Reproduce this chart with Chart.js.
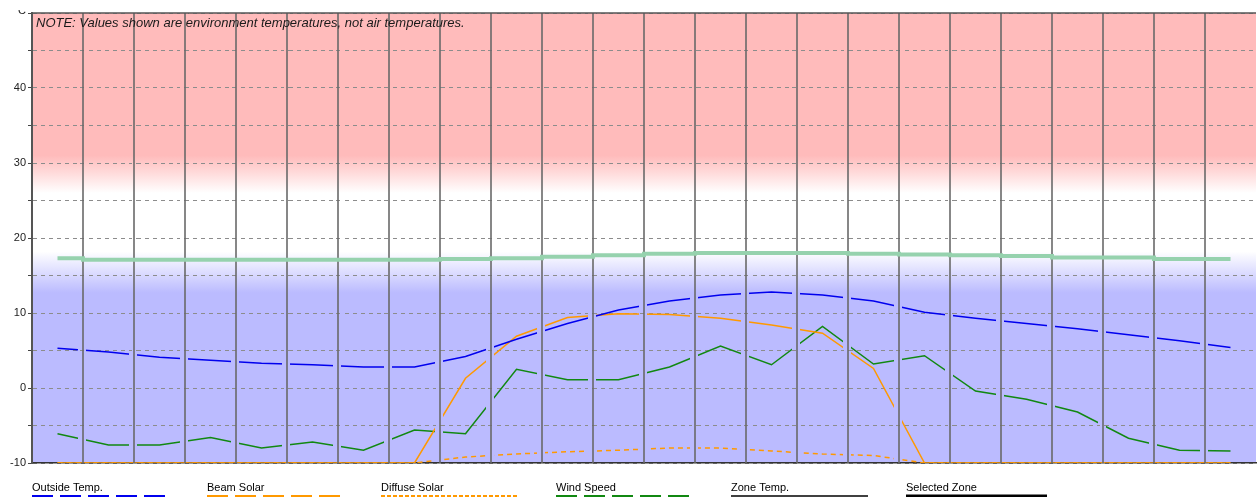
<!DOCTYPE html>
<html lang="en">
<head>
<meta charset="UTF-8">
<title>Environment Temperatures</title>
<script src="https://cdn.jsdelivr.net/npm/chart.js"></script>
<style>
  body { margin: 0; background: #fff; }
  canvas { display: block; }
</style>
</head>
<body>
<canvas id="tempChart" width="1258" height="497"></canvas>
<script>
const hours = [0, 1, 2, 3, 4, 5, 6, 7, 8, 9, 10, 11, 12, 13, 14, 15, 16, 17, 18, 19, 20, 21, 22, 23];
const zoneTemp = [17.3, 17.1, 17.1, 17.1, 17.1, 17.1, 17.1, 17.1, 17.2, 17.3, 17.5, 17.7, 17.9, 18.0, 18.0, 18.0, 17.9, 17.8, 17.7, 17.6, 17.4, 17.4, 17.2, 17.2];
const outsideTemp = [5.3, 4.8, 4.1, 3.7, 3.3, 3.1, 2.8, 2.8, 4.2, 6.5, 8.6, 10.4, 11.6, 12.4, 12.8, 12.4, 11.6, 10.1, 9.3, 8.6, 7.9, 7.1, 6.3, 5.4];
const beamSolar = [-10, -10, -10, -10, -10, -10, -10, -10, 1.3, 6.9, 9.4, 9.9, 9.8, 9.3, 8.4, 7.3, 2.6, -10, -10, -10, -10, -10, -10, -10];
const diffuseSolar = [-10, -10, -10, -10, -10, -10, -10, -10, -9.2, -8.8, -8.5, -8.3, -8.0, -8.0, -8.4, -8.8, -9.0, -10, -10, -10, -10, -10, -10, -10];
const windSpeed = [-6.1, -7.6, -7.6, -6.6, -8.0, -7.2, -8.3, -5.6, -6.1, 2.5, 1.1, 1.1, 2.8, 5.6, 3.1, 8.2, 3.2, 4.3, -0.4, -1.5, -3.2, -6.7, -8.3, -8.4];
const legendLabels = ['Outside Temp.', 'Beam Solar', 'Diffuse Solar', 'Wind Speed', 'Zone Temp.', 'Selected Zone'];
const noteText = 'NOTE: Values shown are environment temperatures, not air temperatures.';

const FONT = 'Arial, "Liberation Sans", sans-serif';
const PINK = '#ffbbbb';
const LAVENDER = '#bbbbff';
const ORANGE = '#ff9900';

const legendStyles = [
    { color: '#0000ee', dash: [21, 7], width: 2 },
    { color: ORANGE, dash: [21, 7], width: 2 },
    { color: ORANGE, dash: [4, 2], width: 2 },
    { color: '#118811', dash: [21, 7], width: 2 },
    { color: '#000', dash: [], width: 1.5 },
    { color: '#000', dash: [], width: 3 }
];

function bandGradient(chart) {
    const y = chart.scales.y;
    const g = chart.ctx.createLinearGradient(0, y.getPixelForValue(50), 0, y.getPixelForValue(-10));
    const stop = v => (50 - v) / 60;
    g.addColorStop(0, PINK);
    g.addColorStop(stop(31), PINK);
    g.addColorStop(stop(26), '#ffffff');
    g.addColorStop(stop(18.2), '#ffffff');
    g.addColorStop(stop(12.7), LAVENDER);
    g.addColorStop(1, LAVENDER);
    return g;
}

function align(px, w) {
    return Math.round(px - w / 2) + w / 2;
}

const backdrop = {
    id: 'backdrop',
    beforeDraw(chart) {
        const { ctx, chartArea: a } = chart;
        ctx.save();
        ctx.fillStyle = bandGradient(chart);
        ctx.fillRect(a.left, a.top, a.right - a.left, a.bottom - a.top);
        ctx.restore();
    },
    beforeDatasetDraw(chart, args) {
        if (args.index !== 0) return;
        // half-hour lines cut through the thin series, zone line sits on top
        const { ctx, chartArea: a, scales: { x, y } } = chart;
        const xs = [];
        for (let h = 0.5; h < 23; h += 1) xs.push(Math.round(x.getPixelForValue(h)));
        ctx.save();
        ctx.fillStyle = bandGradient(chart);
        ctx.beginPath();
        xs.forEach(px => ctx.rect(px - 5, a.top, 8, a.bottom - a.top - 1));
        ctx.fill();
        ctx.clip();
        ctx.strokeStyle = '#8c8c8c';
        ctx.lineWidth = 1;
        ctx.setLineDash([4, 4]);
        for (let v = -5; v < 50; v += 5) {
            const py = align(y.getPixelForValue(v), 1);
            ctx.beginPath();
            ctx.moveTo(a.left, py);
            ctx.lineTo(a.right, py);
            ctx.stroke();
        }
        ctx.restore();
        ctx.save();
        ctx.strokeStyle = 'rgba(105,105,105,0.8)';
        ctx.lineWidth = 2;
        xs.forEach(px => {
            ctx.beginPath();
            ctx.moveTo(px, a.top);
            ctx.lineTo(px, a.bottom);
            ctx.stroke();
        });
        ctx.restore();
    },
    afterDraw(chart) {
        const { ctx, chartArea: a } = chart;
        ctx.save();
        ctx.strokeStyle = '#555';
        ctx.lineWidth = 1.5;
        ctx.beginPath();
        ctx.moveTo(a.left, a.top);
        ctx.lineTo(a.right, a.top);
        ctx.stroke();

        ctx.fillStyle = '#1a1a1a';
        ctx.font = 'italic 13px ' + FONT;
        ctx.textBaseline = 'middle';
        ctx.textAlign = 'left';
        ctx.fillText(noteText, a.left + 4, a.top + 10);

        // unit label, clipped at the top like the original
        ctx.save();
        ctx.beginPath();
        ctx.rect(0, 10, a.left, 10);
        ctx.clip();
        ctx.font = '11px ' + FONT;
        ctx.textAlign = 'right';
        ctx.fillStyle = '#222';
        ctx.fillText('°C', a.left - 6, 11);
        ctx.restore();

        // legend row
        ctx.font = '11px ' + FONT;
        ctx.textAlign = 'left';
        legendLabels.forEach((label, i) => {
            const lx = Math.round(a.left + i * 174.7);
            const s = legendStyles[i];
            ctx.fillStyle = '#000';
            ctx.fillText(label, lx, 488);
            ctx.strokeStyle = s.color;
            ctx.lineWidth = s.width;
            ctx.setLineDash(s.dash);
            ctx.beginPath();
            ctx.moveTo(lx, 496);
            ctx.lineTo(lx + (i === 5 ? 141 : 137), 496);
            ctx.stroke();
        });
        ctx.restore();
    }
};

const thin = { borderWidth: 1.5, pointRadius: 0, fill: false, tension: 0 };

new Chart(document.getElementById('tempChart'), {
    type: 'line',
    data: {
        labels: hours,
        datasets: [
            { label: 'Selected Zone', data: zoneTemp, borderColor: '#96d2ae', borderWidth: 4, pointRadius: 0, stepped: 'middle' },
            { ...thin, label: 'Outside Temp.', data: outsideTemp, borderColor: '#0000ee' },
            { ...thin, label: 'Beam Solar', data: beamSolar, borderColor: ORANGE },
            { ...thin, label: 'Diffuse Solar', data: diffuseSolar, borderColor: ORANGE, borderDash: [5, 4] },
            { ...thin, label: 'Wind Speed', data: windSpeed, borderColor: '#118811' }
        ]
    },
    options: {
        responsive: false,
        devicePixelRatio: 1,
        animation: false,
        layout: { padding: { top: 13, right: 2, left: 0, bottom: 0 } },
        plugins: {
            legend: { display: false },
            tooltip: { enabled: false }
        },
        scales: {
            x: {
                type: 'linear',
                min: -0.5,
                max: 23.5,
                afterBuildTicks: s => { s.ticks = s.ticks.filter(t => Number.isInteger(t.value)); },
                afterFit: s => { s.height = 34; },
                ticks: {
                    stepSize: 1,
                    autoSkip: false,
                    maxRotation: 0,
                    padding: 1,
                    color: '#222',
                    font: { size: 11, family: FONT },
                    callback: v => (v % 2 === 0 ? String(v) : '')
                },
                grid: { drawOnChartArea: false, drawTicks: true, tickLength: 4, tickColor: '#333' },
                border: { color: '#333', width: 1.5 }
            },
            y: {
                min: -10,
                max: 50,
                afterFit: s => { s.width = 32; },
                ticks: {
                    stepSize: 5,
                    padding: 2,
                    color: '#222',
                    font: { size: 11, family: FONT },
                    callback: v => (v % 10 === 0 && v < 50 ? String(v) : '')
                },
                grid: { color: '#8c8c8c', lineWidth: 1, tickLength: 4, tickColor: '#444' },
                border: { color: '#555', width: 2, dash: [4, 4] }
            }
        }
    },
    plugins: [backdrop]
});
</script>
</body>
</html>
